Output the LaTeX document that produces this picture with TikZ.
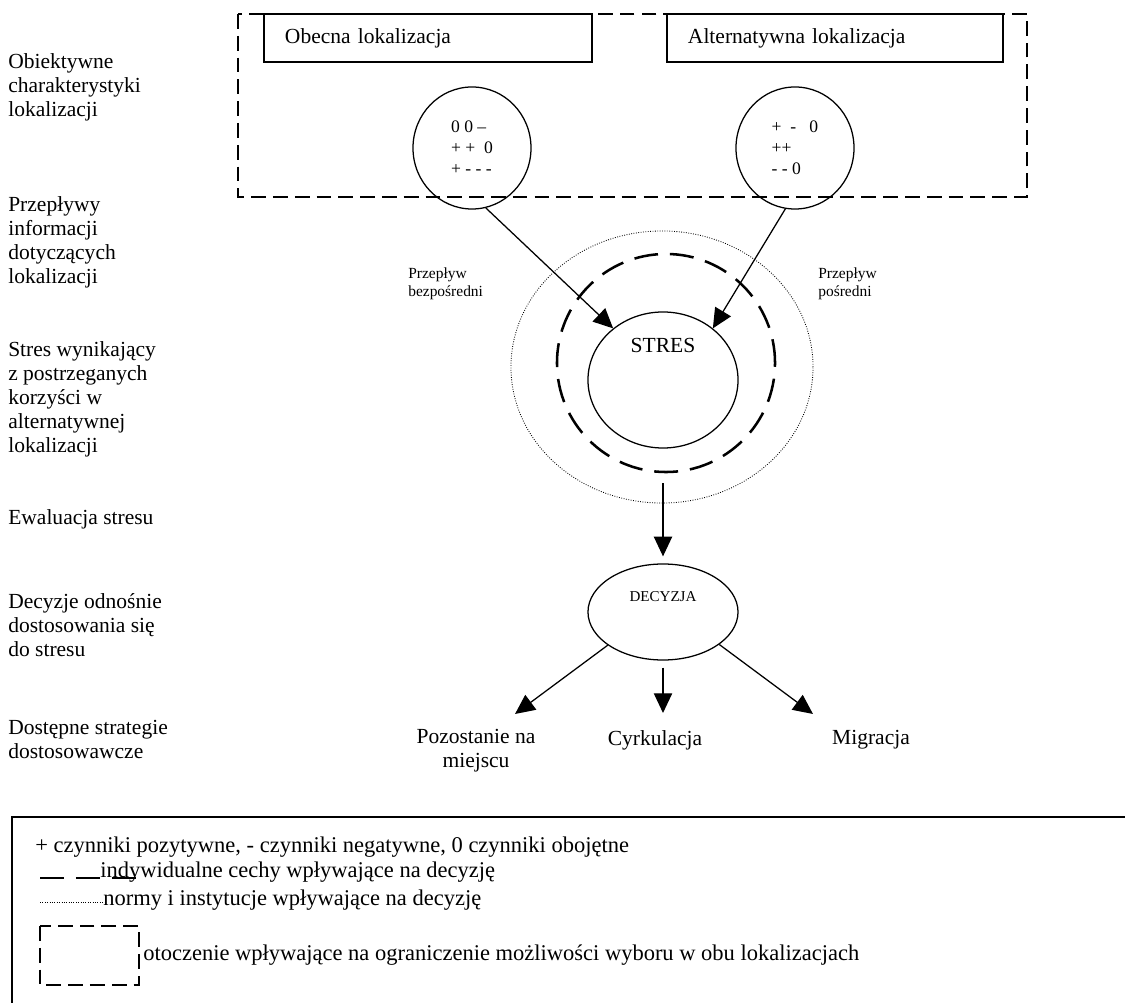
\documentclass[tikz,border=0pt]{standalone}
\usepackage{fontspec}
\setmainfont{Liberation Serif}
\usetikzlibrary{arrows.meta}
\usetikzlibrary{shapes.geometric}

\begin{document}
\begin{tikzpicture}[x=0.025cm, y=-0.025cm,
        every node/.style={font=\fontsize{15.3}{17.1}\selectfont},
        rowlabel/.style={anchor=north west, align=left, inner sep=0pt},
        locbox/.style={draw, line width=0.8pt, minimum height=1.2cm, inner xsep=0.525cm, align=left},
        ring/.style={draw, ellipse, line width=0.9pt, inner sep=0pt},
        flow/.style={line width=0.9pt, -{Triangle[length=14pt, width=13pt]}},
        envline/.style={line width=1.4pt, dash pattern=on 10.5pt off 5pt},
        indivline/.style={line width=1.8pt, dash pattern=on 17pt off 8.5pt},
        normline/.style={line width=0.6pt, dash pattern=on 0.6pt off 1.1pt},
        smalltxt/.style={font=\fontsize{11}{13}\selectfont, align=left, inner sep=0pt},
        keytxt/.style={anchor=west, inner sep=0pt, font=\fontsize{16}{18}\selectfont}
    ]
        \useasboundingbox (0,0) rectangle (1125,1003);

        % Row labels on the left
        \node[rowlabel] (row1) at (8,53) {Obiektywne\\charakterystyki\\lokalizacji};
        \node[rowlabel] (row2) at (8,196) {Przepływy\\informacji\\dotyczących\\lokalizacji};
        \node[rowlabel] (row3) at (8,341) {Stres wynikający\\z postrzeganych\\korzyści w\\alternatywnej\\lokalizacji};
        \node[rowlabel] (row4) at (8,509) {Ewaluacja stresu};
        \node[rowlabel] (row5) at (8,593) {Decyzje odnośnie\\dostosowania się\\do stresu};
        \node[rowlabel] (row6) at (8,720) {Dostępne strategie\\dostosowawcze};

        % Environment of both locations
        \draw[envline] (238,14) rectangle (1027,197);
        \node[locbox, minimum width=8.2cm, text width=7.15cm] (obecna) at (428,38) {Obecna lokalizacja};
        \node[locbox, minimum width=8.4cm, text width=7.35cm] (alternatywna) at (835,38) {Alternatywna lokalizacja};

        % Characteristics of the locations
        \node[ring, minimum width=2.95cm, minimum height=3.05cm, align=left,
              font=\fontsize{12.5}{15}\selectfont] (obecnaocena) at (472,148) {0 0 --\\+ + \ 0\\+ - - -};
        \node[ring, minimum width=2.95cm, minimum height=3.05cm, align=left,
              font=\fontsize{12.5}{15}\selectfont] (alternatywnaocena) at (795,148) {+ \ - \ \ 0\\++\\- - 0};

        % Stress with norms and individual features
        \node[ring, normline, minimum width=7.55cm, minimum height=6.8cm] (normy) at (662,367) {};
        \node[ring, indivline, minimum size=5.45cm] (cechy) at (666,363) {};
        \node[ring, minimum width=3.75cm, minimum height=3.4cm] (stres) at (663,380) {};
        \node (streslbl) at ([yshift=0.875cm]stres.center) {STRES};

        \node[smalltxt, anchor=west] (bezposredni) at (408,284) {Przepływ\\bezpośredni};
        \node[smalltxt, anchor=west] (posredni) at (818,284) {Przepływ\\pośredni};

        \draw[flow] (obecnaocena.-77) -- (stres.134);
        \draw[flow] (alternatywnaocena.-99) -- (stres.46);

        % Decision
        \node[ring, minimum width=3.75cm, minimum height=2.4cm] (decyzja) at (663,612) {};
        \node[font=\fontsize{10.7}{12}\selectfont] (decyzjalbl) at ([yshift=0.375cm]decyzja.center) {DECYZJA};
        \draw[flow, shorten <=0.25cm, shorten >=0.175cm] (decyzja.north |- cechy.south) -- (decyzja.north);

        % Strategies
        \node[align=center] (pozostanie) at (476,751) {Pozostanie na\\miejscu};
        \node (cyrkulacja) at (655,740) {Cyrkulacja};
        \node (migracja) at (871,740) {Migracja};
        \coordinate (pozostanie-in) at (515,714);
        \coordinate (cyrkulacja-in) at (663,713);
        \coordinate (migracja-in) at (813,714);

        \draw[flow] (decyzja.211) -- (pozostanie-in);
        \draw[flow, shorten <=0.175cm] (decyzja.south) -- (cyrkulacja-in);
        \draw[flow] (decyzja.-30) -- (migracja-in);

        % Legend
        \draw[line width=1.2pt] (12,1003) -- (12,817) -- (1125,817);
        \node[keytxt] (key1) at (35,847) {+ czynniki pozytywne, - czynniki negatywne, 0 czynniki obojętne};
        \draw[indivline] (40,878) -- (138,878);
        \node[keytxt] (key2) at (100,872) {indywidualne cechy wpływające na decyzję};
        \draw[normline] (40,902) -- (105,902);
        \node[keytxt] (key3) at (103,900) {normy i instytucje wpływające na decyzję};
        \draw[envline] (40,926) rectangle (139,985);
        \node[keytxt] (key4) at (143,955) {otoczenie wpływające na ograniczenie możliwości wyboru w obu lokalizacjach};
    \end{tikzpicture}
\end{document}
